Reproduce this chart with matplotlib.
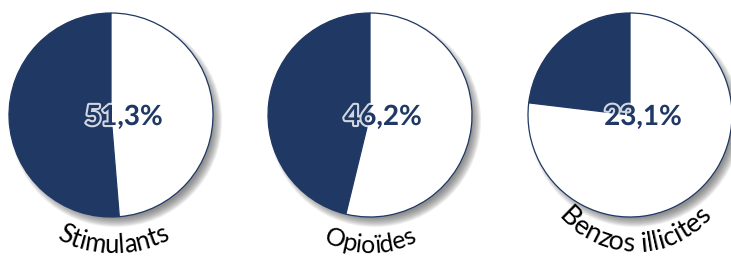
"""Three share pies with curved category labels."""

import matplotlib

matplotlib.use("Agg")
import matplotlib.patheffects as pe
import matplotlib.pyplot as plt
import numpy as np
from matplotlib.font_manager import FontProperties, findfont, get_font
from matplotlib.patches import Circle

CATEGORIES = ["Stimulants", "Opioïdes", "Benzos illicites"]
SHARES = [51.3, 46.2, 23.1]
VALUE_LABELS = ["51,3%", "46,2%", "23,1%"]

NAVY = "#1F3864"
W, H = 731, 259
DPI = 100

PIE_X = [111, 370, 630]
PIE_Y = 115
RADIUS = 102

# curved label arcs, image pixel coords (y down): centre, radius, font size
ARCS = [
    dict(cx=113, cy=130, r=123, size=18.5),
    dict(cx=370, cy=150, r=103, size=18),
    dict(cx=635, cy=151, r=101, size=19.5),
]


def curved_label(ax, text, cx, cy, r, size):
    prop = FontProperties(family="Lato", size=size)
    font = get_font(findfont(prop))
    font.set_size(size, DPI)
    adv = [font.load_char(ord(ch)).linearHoriAdvance / 65536 for ch in text]
    total = sum(adv)
    pos = 0.0
    for ch, a in zip(text, adv):
        phi = (pos + a / 2 - total / 2) / r
        pos += a
        if ch == " ":
            continue
        x = cx + r * np.sin(phi)
        y = cy + r * np.cos(phi)
        ax.text(x, H - y, ch, fontproperties=prop, color="black",
                rotation=np.degrees(phi), rotation_mode="anchor",
                ha="center", va="baseline")


def main() -> None:
    fig = plt.figure(figsize=(W / DPI, H / DPI), dpi=DPI)
    ax = fig.add_axes([0, 0, 1, 1])

    for px, share, label, name, arc in zip(PIE_X, SHARES, VALUE_LABELS, CATEGORIES, ARCS):
        cy = H - PIE_Y
        # soft drop shadow
        for k in range(10):
            ax.add_patch(Circle((px + 5, cy - 6), RADIUS + 4 - k, color="#505050",
                                alpha=0.09, lw=0, zorder=0))
        ax.pie([share, 100 - share], colors=[NAVY, "white"], startangle=90,
               counterclock=True, center=(px, cy), radius=RADIUS, frame=True,
               wedgeprops=dict(edgecolor=NAVY, linewidth=0.9))
        ax.text(px + 13, cy - 2, label, fontsize=20, fontweight="bold",
                family="Lato", color=NAVY, ha="center", va="center",
                path_effects=[pe.withStroke(linewidth=3, foreground="white", alpha=0.8)])
        curved_label(ax, name, **arc)

    ax.set_xlim(0, W)
    ax.set_ylim(0, H)
    ax.set_aspect("equal")
    ax.axis("off")
    fig.savefig("out.png", dpi=DPI)
    plt.close(fig)


if __name__ == "__main__":
    main()
